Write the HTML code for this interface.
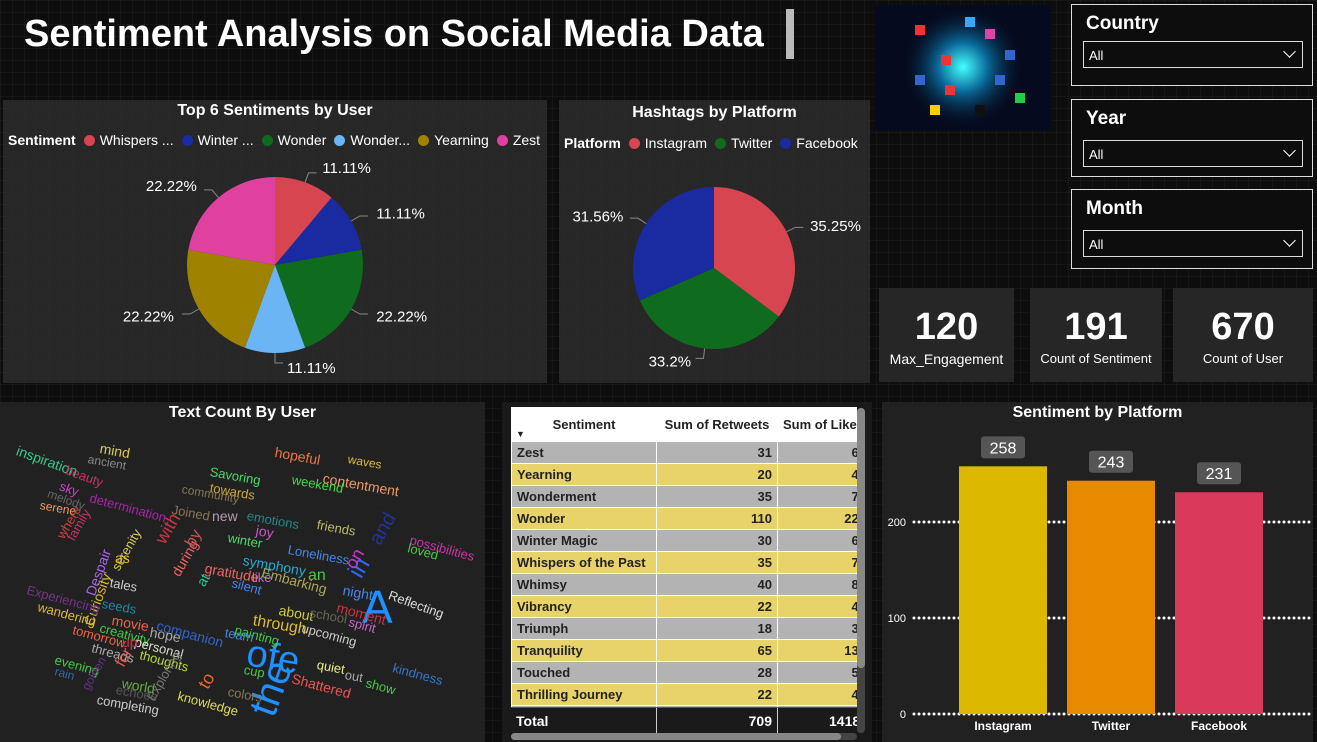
<!DOCTYPE html>
<html><head><meta charset="utf-8">
<style>
*{box-sizing:border-box;margin:0;padding:0}
body{width:1317px;height:742px;overflow:hidden;background:#0d0d0d;font-family:"Liberation Sans","DejaVu Sans",sans-serif;position:relative;
background-image:linear-gradient(rgba(255,255,255,0.04) 1px,transparent 1px),linear-gradient(90deg,rgba(255,255,255,0.04) 1px,transparent 1px);background-size:12px 12px}
.abs{position:absolute}
.panel{position:absolute;background:rgba(45,45,45,0.85)}
.ptitle{position:absolute;left:0;right:0;text-align:center;color:#fff;font-size:16px;font-weight:bold}
.leg{position:absolute;color:#fff;font-size:14px;white-space:nowrap}
.leg b{font-weight:bold}
.dot{display:inline-block;width:11px;height:11px;border-radius:50%;margin:0 5px 0 8px;vertical-align:-1px}
.slicer{position:absolute;border:1px solid #ddd;background:#0d0d0d}
.slicer .t{position:absolute;left:14px;top:8px;color:#fff;font-size:19px;font-weight:bold}
.slicer .dd{position:absolute;left:11px;right:9px;height:27px;border:1px solid #ddd;color:#fff;font-size:13px;padding:6px 0 0 5px}
.slicer .dd:after{content:"";position:absolute;right:8px;top:5px;width:8px;height:8px;border-right:1.5px solid #fff;border-bottom:1.5px solid #fff;transform:rotate(45deg)}
.kpi{position:absolute;background:#262626;color:#fff;text-align:center}
.kpi .v{font-size:38px;font-weight:bold;margin-top:18px}
.kpi .l{font-size:13px;margin-top:2px}
table{border-collapse:collapse;font-size:13px;font-weight:bold;color:#222;table-layout:fixed}
td,th{height:22px;border:1px solid #fff;padding:0 5px;white-space:nowrap;overflow:hidden}
.wc span{position:absolute;white-space:nowrap;font-size:12px;transform-origin:left center}
</style></head><body>
<div class="abs" style="left:24px;top:13px;color:#fff;font-size:38px;font-weight:bold">Sentiment Analysis on Social Media Data</div>
<div class="abs" style="left:786px;top:9px;width:8px;height:50px;background:#bbb"></div>

<div class="abs" style="left:875px;top:5px;width:176px;height:125px;background:#050a1e;overflow:hidden">
<svg width="176" height="125"><defs><radialGradient id="g"><stop offset="0" stop-color="#4ff"/><stop offset="0.4" stop-color="#0a6a9a"/><stop offset="1" stop-color="#050a1e" stop-opacity="0"/></radialGradient></defs>
<circle cx="88" cy="62" r="62" fill="url(#g)"/>
<g fill="#e33"><rect x="40" y="20" width="10" height="10"/><rect x="110" y="24" width="10" height="10" fill="#d4a"/><rect x="66" y="50" width="10" height="10"/><rect x="120" y="70" width="10" height="10" fill="#36c"/><rect x="40" y="70" width="10" height="10" fill="#36c"/><rect x="70" y="80" width="10" height="10" fill="#e33"/><rect x="90" y="12" width="10" height="10" fill="#3af"/><rect x="130" y="45" width="10" height="10" fill="#36c"/><rect x="140" y="88" width="10" height="10" fill="#2c4"/><rect x="55" y="100" width="10" height="10" fill="#fc0"/><rect x="100" y="100" width="10" height="10" fill="#111"/></g></svg></div>

<div class="slicer" style="left:1071px;top:4px;width:242px;height:82px"><div class="t">Country</div><div class="dd" style="top:36px">All</div></div>
<div class="slicer" style="left:1071px;top:99px;width:242px;height:78px"><div class="t">Year</div><div class="dd" style="top:40px">All</div></div>
<div class="slicer" style="left:1071px;top:189px;width:242px;height:80px"><div class="t">Month</div><div class="dd" style="top:40px">All</div></div>

<div class="kpi" style="left:879px;top:288px;width:135px;height:94px"><div class="v">120</div><div class="l" style="font-size:14px">Max_Engagement</div></div>
<div class="kpi" style="left:1030px;top:288px;width:132px;height:94px"><div class="v">191</div><div class="l">Count of Sentiment</div></div>
<div class="kpi" style="left:1173px;top:288px;width:140px;height:94px"><div class="v">670</div><div class="l">Count of User</div></div>

<div class="panel" style="left:3px;top:100px;width:544px;height:283px">
<div class="ptitle" style="top:2px">Top 6 Sentiments by User</div>
<div class="leg" style="left:5px;top:32px"><b>Sentiment</b><span class="dot" style="background:#d64550"></span>Whispers ...<span class="dot" style="background:#1a2aa0"></span>Winter ...<span class="dot" style="background:#0f6b1e"></span>Wonder<span class="dot" style="background:#6bb5f5"></span>Wonder...<span class="dot" style="background:#9f8200"></span>Yearning<span class="dot" style="background:#e040a0"></span>Zest</div>
<svg id="pie1" class="abs" style="left:0;top:0" width="544" height="283"></svg></div>

<div class="panel" style="left:559px;top:100px;width:311px;height:283px">
<div class="ptitle" style="top:4px">Hashtags by Platform</div>
<div class="leg" style="left:5px;top:35px"><b>Platform</b><span class="dot" style="background:#d64550"></span>Instagram<span class="dot" style="background:#0f6b1e"></span>Twitter<span class="dot" style="background:#1a2aa0"></span>Facebook</div>
<svg id="pie2" class="abs" style="left:0;top:0" width="311" height="283"></svg></div>

<div class="panel" style="left:0;top:402px;width:485px;height:340px;background:rgba(35,35,35,0.9)">
<div class="ptitle" style="top:2px">Text Count By User</div>
<div class="wc" id="wc"></div></div>

<div class="panel" style="left:502px;top:402px;width:370px;height:340px;background:#1a1a1a;overflow:hidden">
<div class="abs" style="left:9px;top:5px;width:346px;overflow:hidden">
<table id="tbl" style="width:360px"><colgroup><col style="width:145px"><col style="width:121px"><col style="width:94px"></colgroup></table></div>
<div class="abs" style="left:355px;top:6px;width:8px;height:325px;background:#444;border-radius:4px"><div style="width:8px;height:260px;background:#888;border-radius:4px"></div></div>
<div class="abs" style="left:9px;top:331px;width:346px;height:7px;background:#444;border-radius:4px"><div style="width:330px;height:7px;background:#888;border-radius:4px"></div></div>
</div>

<div class="panel" style="left:882px;top:402px;width:431px;height:340px;background:rgba(35,35,35,0.9)">
<div class="ptitle" style="top:2px">Sentiment by Platform</div>
<svg id="bar" class="abs" style="left:0;top:0" width="431" height="340"></svg></div>

<script>
const NS="http://www.w3.org/2000/svg";
function mk(p,t,a){const e=document.createElementNS(NS,t);for(const k in a)e.setAttribute(k,a[k]);p.appendChild(e);return e;}
const pie1Labels=["Whispers of the Past","Winter Magic","Wonder","Wonderment","Yearning","Zest"];
const pie1Values=[11.11,11.11,22.22,11.11,22.22,22.22];
const pie1Colors=["#d64550","#1a2aa0","#0f6b1e","#6bb5f5","#9f8200","#e040a0"];
const pie2Labels=["Instagram","Twitter","Facebook"];
const pie2Values=[35.25,33.2,31.56];
const pie2Colors=["#d64550","#0f6b1e","#1a2aa0"];
function pie(svg,cx,cy,r,vals,cols,names,lblR){
 const tot=vals.reduce((a,b)=>a+b,0);let a0=-Math.PI/2;
 vals.forEach((v,i)=>{const a1=a0+v/tot*2*Math.PI;
  const x0=cx+r*Math.cos(a0),y0=cy+r*Math.sin(a0),x1=cx+r*Math.cos(a1),y1=cy+r*Math.sin(a1);
  const p=mk(svg,"path",{d:`M${cx},${cy}L${x0},${y0}A${r},${r} 0 ${a1-a0>Math.PI?1:0} 1 ${x1},${y1}Z`,fill:cols[i]});
  
  
  const am=(a0+a1)/2,c=Math.cos(am),s=Math.sin(am);
  mk(svg,"polyline",{points:`${cx+r*c},${cy+r*s} ${cx+(r+10)*c},${cy+(r+10)*s} ${cx+(r+10)*c+(c>=0?8:-8)},${cy+(r+10)*s}`,fill:"none",stroke:"#888"});
  const t=mk(svg,"text",{x:cx+lblR*c+(c>=0?12:-12),y:cy+lblR*s+5,fill:"#fff","font-size":"15","text-anchor":c>=0?"start":"end"});
  t.textContent=(Math.round(v*100)/100)+"%";
  
  
  a0=a1;});
}
pie(document.getElementById("pie1"),272,165,88,pie1Values,pie1Colors,pie1Labels,103);
pie(document.getElementById("pie2"),155,168,81,pie2Values,pie2Colors,pie2Labels,94);

const rowNames=["Zest","Yearning","Wonderment","Wonder","Winter Magic","Whispers of the Past","Whimsy","Vibrancy","Triumph","Tranquility","Touched","Thrilling Journey","Thrill"];
const retweets=[31,20,35,110,30,35,40,22,18,65,28,22,105];
const likes=[62,40,70,220,60,70,80,44,36,130,56,44,210];
const tb=document.getElementById("tbl");
let h='<tr style="background:#fff;height:34px"><th style="position:relative">Sentiment<span style="position:absolute;left:4px;bottom:2px;font-size:9px">▼</span></th><th>Sum of Retweets</th><th style="text-align:left">Sum of Likes</th></tr>';
rowNames.forEach((n,i)=>{const bg=i%2?"#e8d26a":"#b3b3b3";h+=`<tr style="background:${bg}"><td>${n}</td><td style="text-align:right">${retweets[i]}</td><td style="text-align:right">${likes[i]}</td></tr>`;});
tb.insertAdjacentHTML('beforeend',h);
const tot=document.createElement('div');


tot.style.cssText="position:absolute;left:9px;top:305px;width:346px;height:26px;background:#1a1a1a;color:#fff;font-weight:bold;font-size:14px;border-top:1px solid #555;overflow:hidden";
tot.innerHTML='<span style="position:absolute;left:5px;top:5px">Total</span><span style="position:absolute;left:145px;top:0;height:26px;border-left:1px solid #ccc"></span><span style="position:absolute;right:85px;top:5px">709</span><span style="position:absolute;left:266px;top:0;height:26px;border-left:1px solid #ccc"></span><span style="position:absolute;left:318px;top:5px">1418</span>';
tb.parentNode.parentNode.appendChild(tot);

const barCats=["Instagram","Twitter","Facebook"];
const barVals=[258,243,231];
const barColors=["#dcb800","#e88a00","#d9395a"];
const yTicks=[0,100,200];
const bs=document.getElementById("bar");
const y0=312,sc=0.96;const yv=v=>y0-v*sc;
yTicks.forEach(t=>{const l=mk(bs,"line",{x1:32,x2:428,y1:yv(t),y2:yv(t),stroke:"#fff","stroke-width":3,"stroke-dasharray":"0 5","stroke-linecap":"round"});
 
 
 const tx=mk(bs,"text",{x:24,y:yv(t)+4,fill:"#fff","font-size":"11","text-anchor":"end"});tx.textContent=t;
 
 });
barCats.forEach((c,i)=>{const x=77+i*108;
 const r=mk(bs,"rect",{x:x,y:yv(barVals[i]),width:88,height:barVals[i]*sc,fill:barColors[i]});
 
 
 const bx=mk(bs,"rect",{x:x+22,y:yv(barVals[i])-30,width:44,height:22,rx:3,fill:"#555"});
 
 
 const t=mk(bs,"text",{x:x+44,y:yv(barVals[i])-13,fill:"#fff","font-size":"16","text-anchor":"middle"});t.textContent=barVals[i];
 
 
 const xl=mk(bs,"text",{x:x+44,y:328,fill:"#fff","font-size":"12","font-weight":"bold","text-anchor":"middle"});xl.textContent=c;
 
 });

const words=[["inspiration",17,40,14,"#3c8",20],["mind",100,38,14,"#dc5",10],["ancient",88,50,12,"#888",10],["beauty",66,60,13,"#c36",20],["sky",60,76,13,"#c4c",20],["melody",48,84,12,"#666",20],["serene",40,96,12,"#e96",10],["determination",90,88,13,"#a2a",15],["hopeful",275,42,14,"#e74",10],["waves",348,50,12,"#db3",10],["contentment",323,68,14,"#e96",10],["weekend",292,70,13,"#4d4",10],["Savoring",210,62,13,"#4d6",10],["towards",210,78,13,"#ca3",10],["community",182,80,12,"#875",10],["with",160,130,18,"#c34",-60],["Joined",172,100,13,"#875",10],["new",212,106,14,"#b9a",0],["emotions",247,106,13,"#288",10],["joy",256,120,14,"#c5c",10],["winter",228,128,13,"#4d6",10],["friends",317,115,13,"#bb6",10],["Loneliness",288,140,13,"#48e",10],["symphony",243,150,14,"#2ac",10],["like",252,168,13,"#c6c",0],["gratitude",205,158,14,"#e66",10],["serenity",115,160,13,"#dc5",-60],["family",70,130,13,"#c36",-60],["where",60,128,13,"#c44",-60],["Despair",90,185,14,"#a6e",-70],["Curiosity",88,215,14,"#db3",-70],["as",115,148,14,"#db3",0],["during",175,165,14,"#e66",-60],["by",190,135,16,"#c55",-60],["at",200,175,14,"#2c9",-60],["an",308,165,16,"#4c4",0],["in",355,160,24,"#36e",-60],["on",350,155,18,"#c3c",-60],["and",375,130,20,"#239",-60],["Experiencing",27,180,13,"#738",15],["wandering",38,197,13,"#db3",15],["tales",110,173,13,"#ccc",10],["seeds",102,194,13,"#28a",10],["movie",112,210,14,"#e64",10],["tomorrow",73,220,13,"#e64",15],["creativity",100,218,13,"#4c4",15],["hope",150,222,14,"#aaa",10],["companion",157,215,14,"#36c",15],["personal",135,232,13,"#ddc",15],["thoughts",140,245,13,"#bd3",15],["threads",92,238,13,"#aaa",15],["evening",55,250,13,"#4c4",15],["rain",55,262,12,"#36a",15],["for",120,255,16,"#e55",-60],["up",122,232,14,"#c34",0],["world",122,273,14,"#6a4",10],["completing",97,290,13,"#ccc",10],["knowledge",178,286,13,"#dd5",15],["to",203,275,18,"#e63",-60],["the",262,290,40,"#1e90ff",-70],["ofe",247,230,38,"#1e90ff",10],["A",362,178,46,"#1e90ff",0],["through",253,210,16,"#db3",10],["about",279,200,14,"#cc3",10],["upcoming",302,218,13,"#ccc",15],["painting",235,220,13,"#4c4",15],["team",225,223,13,"#48d",10],["Shattered",292,268,14,"#e55",15],["quiet",317,255,13,"#ee8",10],["out",345,265,13,"#aaa",10],["show",366,273,13,"#4c4",15],["moment",337,197,14,"#c34",15],["night",343,180,14,"#48e",10],["Reflecting",389,185,13,"#ddd",20],["spirit",349,212,13,"#c6c",15],["kindness",393,258,13,"#37c",15],["possibilities",410,130,13,"#c3a",15],["loved",408,138,13,"#4c4",15],["Embarking",262,162,14,"#aa5",15],["silent",232,173,13,"#48e",15],["school",310,203,13,"#665",10],["cup",244,260,13,"#4c4",10],["colors",228,282,13,"#875",10],["Exploring",150,290,13,"#777",-60],["golden",85,280,12,"#638",-60],["echoes",116,280,13,"#555",10]];
const wc=document.getElementById("wc");
words.forEach(w=>{const s=document.createElement('span');s.textContent=w[0];
 
 
 s.style.left=w[1]+'px';s.style.top=w[2]+'px';s.style.fontSize=w[3]+'px';s.style.color=w[4];s.style.transform='rotate('+w[5]+'deg)';wc.appendChild(s);});
</script>
</body></html>
